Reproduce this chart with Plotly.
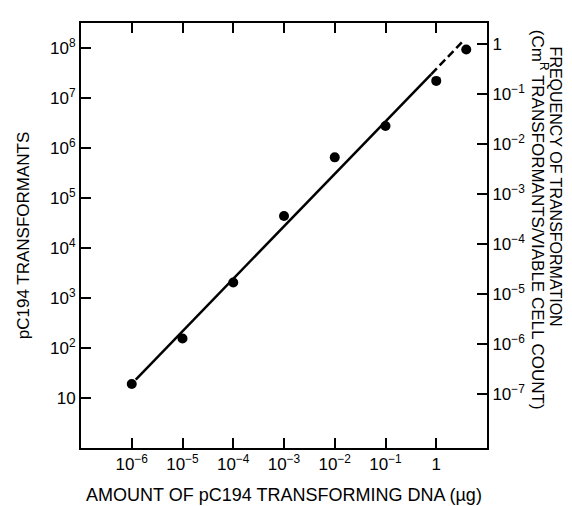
import plotly.graph_objects as go

# Data
dna_ug = [1e-6, 1e-5, 1e-4, 1e-3, 1e-2, 1e-1, 1.0, 3.9]
transformants = [19, 155, 2040, 43600, 650000, 2.75e6, 2.2e7, 9.3e7]

# fitted line (solid part, then dashed extrapolation)
fit_x = [1.2e-6, 0.8]
fit_y = [23.4, 3.0e7]
ext_x = [0.8, 3.2]
ext_y = [3.0e7, 1.3e8]

x_tickvals = [1e-6, 1e-5, 1e-4, 1e-3, 1e-2, 1e-1, 1]
x_ticktext = ["10<sup>−6</sup>", "10<sup>−5</sup>", "10<sup>−4</sup>", "10<sup>−3</sup>",
              "10<sup>−2</sup>", "10<sup>−1</sup>", "1"]
y_tickvals = [1e1, 1e2, 1e3, 1e4, 1e5, 1e6, 1e7, 1e8]
y_ticktext = ["10", "10<sup>2</sup>", "10<sup>3</sup>", "10<sup>4</sup>", "10<sup>5</sup>",
              "10<sup>6</sup>", "10<sup>7</sup>", "10<sup>8</sup>"]
y2_tickvals = [1e-7, 1e-6, 1e-5, 1e-4, 1e-3, 1e-2, 1e-1, 1]
y2_ticktext = ["10<sup>−7</sup>", "10<sup>−6</sup>", "10<sup>−5</sup>", "10<sup>−4</sup>",
               "10<sup>−3</sup>", "10<sup>−2</sup>", "10<sup>−1</sup>", "1"]

FONT = "Liberation Sans, Arial, sans-serif"

fig = go.Figure()
fig.add_trace(go.Scatter(x=fit_x, y=fit_y, mode="lines",
                         line=dict(color="black", width=2.5), showlegend=False))
fig.add_trace(go.Scatter(x=ext_x, y=ext_y, mode="lines",
                         line=dict(color="black", width=2.5, dash="8px,4px"), showlegend=False))
fig.add_trace(go.Scatter(x=dna_ug, y=transformants, mode="markers",
                         marker=dict(color="black", size=10), showlegend=False))
fig.add_trace(go.Scatter(x=[dna_ug[0]], y=[y2_tickvals[0]], yaxis="y2", mode="markers",
                         marker=dict(opacity=0), hoverinfo="skip", showlegend=False))

axis_common = dict(type="log", showline=True, linecolor="black", linewidth=2,
                   ticks="inside", ticklen=10, tickwidth=2, tickcolor="black",
                   showgrid=False, zeroline=False,
                   tickfont=dict(family=FONT, size=17, color="black"))

fig.update_layout(
    width=572, height=506,
    margin=dict(l=73, r=93, t=15, b=56),
    paper_bgcolor="white", plot_bgcolor="white",
    xaxis=dict(range=[-7, 1], tickvals=x_tickvals, ticktext=x_ticktext, mirror="ticks",
               title=dict(text="AMOUNT OF pC194 TRANSFORMING DNA (µg)", standoff=15,
                          font=dict(family=FONT, size=18, color="black")),
               **axis_common),
    yaxis=dict(range=[0, 8.5], tickvals=y_tickvals, ticktext=y_ticktext,
               title=dict(text="pC194 TRANSFORMANTS", standoff=16,
                          font=dict(family=FONT, size=17, color="black")),
               **axis_common),
    yaxis2=dict(range=[-8.08, 0.42], tickvals=y2_tickvals, ticktext=y2_ticktext,
                overlaying="y", side="right", **axis_common),
    annotations=[
        dict(text="FREQUENCY OF TRANSFORMATION", xref="paper", yref="paper",
             x=1.171, y=0.614, xanchor="center", yanchor="middle", textangle=90,
             showarrow=False, font=dict(family=FONT, size=16, color="black")),
        dict(text="(Cm<sup>R</sup> TRANSFORMANTS/VIABLE CELL COUNT)", xref="paper", yref="paper",
             x=1.129, y=0.536, xanchor="center", yanchor="middle", textangle=90,
             showarrow=False, font=dict(family=FONT, size=17, color="black")),
    ],
)

fig.write_html("out.html")
